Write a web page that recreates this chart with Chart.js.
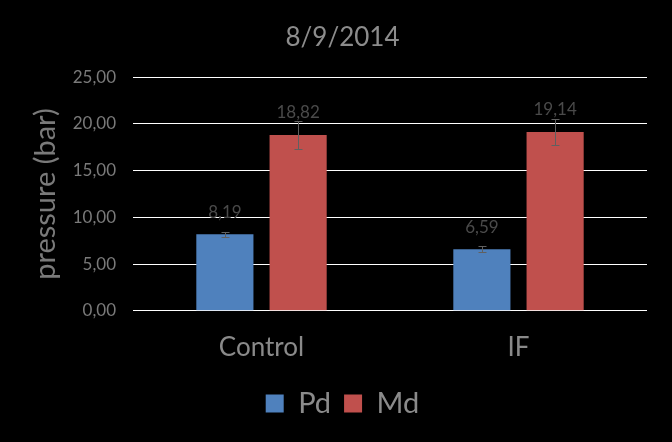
<!DOCTYPE html>
<html lang="en">
<head>
    <meta charset="UTF-8">
    <title>8/9/2014</title>
    <script src="https://cdn.jsdelivr.net/npm/chart.js"></script>
    <style>
        body {
            margin: 0;
            background: #000;
        }
        canvas {
            display: block;
            background: #000;
        }
    </style>
</head>
<body>
    <canvas id="pressure-chart" width="672" height="442"></canvas>

    <script>
        // values
        const categories = ['Control', 'IF'];
        const pdValues = [8.19, 6.59];
        const mdValues = [18.82, 19.14];
        const pdErrors = [0.27, 0.3];
        const mdErrors = [1.5, 1.35];

        const fmt = v => v.toFixed(2).replace('.', ',');
        const fontName = 'Lato, "Open Sans", sans-serif';

        // error bars drawn on top of the bars
        const errorBars = {
            id: 'errorBars',
            afterDatasetsDraw(chart) {
                const ctx = chart.ctx;
                const y = chart.scales.y;
                ctx.save();
                ctx.strokeStyle = '#606060';
                ctx.lineWidth = 1;
                chart.data.datasets.forEach((ds, i) => {
                    chart.getDatasetMeta(i).data.forEach((bar, j) => {
                        const v = ds.data[j];
                        const e = ds.errors[j];
                        const top = Math.round(y.getPixelForValue(v + e)) + 0.5;
                        const bot = Math.round(y.getPixelForValue(v - e)) + 0.5;
                        const x = Math.round(bar.x) + 0.5;
                        ctx.beginPath();
                        ctx.moveTo(x, top);
                        ctx.lineTo(x, bot);
                        ctx.moveTo(x - 4, top);
                        ctx.lineTo(x + 4, top);
                        ctx.moveTo(x - 4, bot);
                        ctx.lineTo(x + 4, bot);
                        ctx.stroke();
                    });
                });
                ctx.restore();
            }
        };

        // value labels above each bar
        const valueLabels = {
            id: 'valueLabels',
            afterDatasetsDraw(chart) {
                const ctx = chart.ctx;
                ctx.save();
                ctx.fillStyle = '#4a4a4a';
                ctx.font = '17px ' + fontName;
                ctx.textAlign = 'center';
                ctx.textBaseline = 'middle';
                chart.data.datasets.forEach((ds, i) => {
                    chart.getDatasetMeta(i).data.forEach((bar, j) => {
                        ctx.fillText(fmt(ds.data[j]), bar.x, bar.y - 22);
                    });
                });
                ctx.restore();
            }
        };

        const ctx = document.getElementById('pressure-chart').getContext('2d');
        new Chart(ctx, {
            type: 'bar',
            data: {
                labels: categories,
                datasets: [{
                    label: 'Pd',
                    data: pdValues,
                    errors: pdErrors,
                    backgroundColor: '#4F81BD'
                }, {
                    label: 'Md',
                    data: mdValues,
                    errors: mdErrors,
                    backgroundColor: '#C0504D'
                }]
            },
            plugins: [errorBars, valueLabels],
            options: {
                responsive: false,
                animation: false,
                categoryPercentage: 0.57,
                barPercentage: 0.78,
                layout: {
                    padding: { left: 38, right: 25, top: 0, bottom: 14 }
                },
                scales: {
                    x: {
                        grid: { display: false },
                        border: { display: false },
                        ticks: {
                            color: '#8a8a8a',
                            font: { family: fontName, size: 26 },
                            padding: 13
                        }
                    },
                    y: {
                        min: 0,
                        max: 25,
                        afterFit(scale) { scale.width = 95; },
                        grid: { color: '#ffffff', drawTicks: false },
                        border: { display: false },
                        ticks: {
                            stepSize: 5,
                            color: '#7a7a7a',
                            padding: 17,
                            font: { family: fontName, size: 17 },
                            callback: v => fmt(v)
                        },
                        title: {
                            display: true,
                            text: 'pressure (bar)',
                            color: '#7a7a7a',
                            font: { family: fontName, size: 29 },
                            padding: { top: -10, bottom: 0 }
                        }
                    }
                },
                plugins: {
                    title: {
                        display: true,
                        text: '8/9/2014',
                        color: '#8c8c8c',
                        font: { family: fontName, size: 26, weight: 'normal' },
                        padding: { top: 22, bottom: 24 }
                    },
                    legend: {
                        position: 'bottom',
                        labels: {
                            color: '#8a8a8a',
                            boxWidth: 18,
                            boxHeight: 18,
                            padding: 13,
                            font: { family: fontName, size: 29 }
                        }
                    },
                    tooltip: { enabled: false }
                }
            }
        });
    </script>
</body>
</html>
